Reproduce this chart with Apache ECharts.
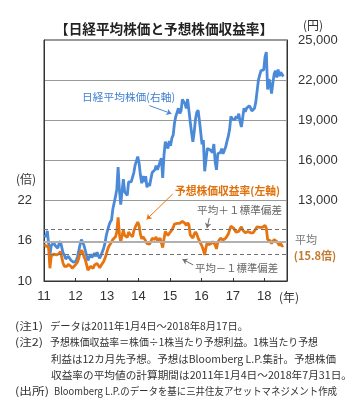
<!DOCTYPE html>
<html><head><meta charset="utf-8">
<script src="https://cdn.jsdelivr.net/npm/echarts@6/dist/echarts.min.js"></script>
<style>html,body{margin:0;padding:0;background:#fff}#c{width:360px;height:406px}</style>
</head><body><div id="c"></div>
<script>
// Semi-monthly values (two per month) per year
const years = [2011, 2012, 2013, 2014, 2015, 2016, 2017, 2018];
const nikkei2011 = [10450,10280, 10750,10620, 8900,9650, 9650,9850, 9650,9690, 9450,9800, 9970,9830, 9100,8950, 8650,8700, 8850,8990, 8550,8430, 8400,8455];
const nikkei2012 = [8500,8800, 9250,9720, 10100,10080, 9650,9520, 8900,8540, 8500,9000, 8750,8700, 9080,8840, 9150,8870, 8700,8930, 8800,9450, 9830,10395];
const nikkei2013 = [10800,11140, 11400,11560, 12380,12400, 13300,13860, 15500,13780, 12700,13680, 14600,13670, 13750,13390, 14400,14460, 14400,14330, 15100,15660, 15700,16290];
const nikkei2014 = [15800,14910, 14300,14840, 14400,14830, 14000,14300, 14100,14630, 15100,15160, 15300,15620, 15300,15420, 15900,16170, 14700,16410, 17400,17460, 16900,17450];
const nikkei2015 = [17100,17670, 17900,18800, 19300,19210, 19900,19520, 19700,20560, 20700,20240, 19900,20590, 20500,18890, 18100,17390, 18100,19080, 19600,19750, 19000,19030];
const nikkei2016 = [17200,17520, 15200,16030, 16900,16760, 16800,16670, 16600,17230, 15900,15300, 16500,16570, 16600,16890, 16500,16450, 17000,17430, 17800,18310, 19300,19110];
const nikkei2017 = [19000,19040, 19300,19120, 19500,18910, 18500,19200, 19900,19650, 19900,20030, 20100,19930, 19700,19650, 19900,20360, 21200,22010, 22400,22720, 22700,22760];
const nikkei2018 = [23700,24100, 21300,22070, 21700,21000, 21800,22470, 22700,22200, 22800,22300, 22600,22550, 22270];

const per2011 = [15.5,15.2, 15.4,15.1, 11.9,13.7, 13.8,14.0, 14.1,13.9, 13.7,14.1, 14.4,14.2, 12.7,12.2, 12.0,12.2, 12.5,12.6, 12.2,11.9, 12.0,12.3];
const per2012 = [12.4,12.8, 13.4,14.2, 14.6,14.3, 13.6,13.2, 12.4,11.6, 11.5,12.2, 12.0,11.9, 12.4,12.2, 12.6,12.3, 12.0,12.3, 12.2,12.9, 13.4,14.0];
const per2013 = [14.7,15.2, 15.5,15.6, 16.2,16.0, 16.6,17.3, 19.5,17.0, 15.8,16.8, 17.6,16.8, 17.0,16.5, 17.3,17.0, 16.8,16.6, 17.5,18.0, 18.2,18.8];
const per2014 = [18.3,17.0, 16.3,16.6, 16.4,16.0, 15.6,15.8, 15.5,15.9, 16.4,16.3, 16.2,16.6, 16.0,15.9, 16.4,16.6, 15.0,16.3, 17.4,17.2, 16.8,17.1];
const per2015 = [17.0,17.6, 18.0,18.5, 18.7,18.6, 18.8,18.6, 18.5,18.9, 18.9,18.6, 18.3,18.7, 18.4,16.9, 16.8,16.4, 17.0,17.3, 17.0,16.4, 16.0,15.6];
const per2016 = [15.2,14.6, 13.9,15.0, 15.8,15.4, 15.2,15.6, 15.9,16.1, 15.4,14.8, 15.8,16.0, 16.4,16.2, 16.1,16.0, 16.4,16.6, 17.0,17.6, 18.2,18.4];
const per2017 = [17.9,17.6, 17.3,17.1, 17.4,17.8, 18.1,17.6, 17.4,17.2, 17.3,17.4, 17.3,17.2, 17.0,17.2, 17.5,17.8, 18.1,18.3, 18.0,17.8, 18.0,18.2];
const per2018 = [18.3,17.9, 16.2,16.4, 16.0,15.6, 15.8,16.2, 16.3,15.9, 15.6,15.3, 15.6,15.2, 15.3];

const perMean = 15.8;
const perPlus1 = 17.7;
const perMinus1 = 14.0;

const leftTicks = [10, 16, 22];
const rightTickMin = 13000;

const nikkeiByYear = [nikkei2011, nikkei2012, nikkei2013, nikkei2014, nikkei2015, nikkei2016, nikkei2017, nikkei2018];
const perByYear = [per2011, per2012, per2013, per2014, per2015, per2016, per2017, per2018];

function toPairs(arrs) {
  const out = [];
  arrs.forEach((arr, i) => {
    arr.forEach((v, k) => out.push([years[i] + (k + 0.5) / 24, v]));
  });
  return out;
}
const nikkeiData = toPairs(nikkeiByYear);
const perData = toPairs(perByYear);

const JP = '"Noto Sans CJK JP", sans-serif';
const NUM = '"Liberation Sans", Arial, sans-serif';

const chart = echarts.init(document.getElementById('c'), null, {renderer: 'canvas'});
const mctx = document.createElement('canvas').getContext('2d');

// text element; if width given, horizontally scaled to fit that width
function txt(x, y, text, size, color, weight, align, width) {
  const font = (weight || 'normal') + ' ' + size + 'px ' + JP;
  let sx = 1;
  if (width) {
    mctx.font = font;
    sx = width / mctx.measureText(text).width;
  }
  return {type: 'text', silent: true, x: x, y: y, scaleX: sx,
    style: {x: 0, y: 0, text: text, font: font, fill: color,
      align: align || 'left', verticalAlign: 'middle'}};
}

const noteSize = 10.6;
chart.setOption({
  animation: false,
  backgroundColor: '#fff',
  grid: {left: 44, top: 40, right: 73, bottom: 125, show: true, borderColor: '#333', borderWidth: 1, containLabel: false, outerBoundsMode: 'none'},
  xAxis: {
    type: 'value', min: 2011, max: 2018.72, interval: 1,
    axisLine: {show: true, lineStyle: {color: '#333', width: 1}},
    axisTick: {show: true, inside: true, length: 3, lineStyle: {color: '#333'}},
    axisLabel: {margin: 9, fontSize: 13, color: '#333', fontFamily: NUM, showMaxLabel: false,
      formatter: v => Number.isInteger(v) ? String(v).slice(2) : ''},
    splitLine: {show: false}
  },
  yAxis: [{
    type: 'value', position: 'left', min: 10, max: 46, interval: 6,
    axisLine: {show: true, lineStyle: {color: '#333'}},
    axisTick: {show: false},
    axisLabel: {margin: 12, fontSize: 13, color: '#333', fontFamily: NUM,
      formatter: v => leftTicks.indexOf(v) >= 0 ? String(v) : ''},
    splitLine: {show: true, lineStyle: {color: '#9a9a9a', width: 1}}
  }, {
    type: 'value', position: 'right', min: 7000, max: 25000, interval: 3000,
    axisLine: {show: true, lineStyle: {color: '#333'}},
    axisTick: {show: false},
    axisLabel: {margin: 11, fontSize: 13, color: '#333', fontFamily: NUM,
      formatter: v => v >= rightTickMin ? String(v).replace(/\B(?=(\d{3})+(?!\d))/g, ',') : ''},
    splitLine: {show: false}
  }],
  series: [{
    name: 'refs', type: 'line', yAxisIndex: 0, data: [], silent: true,
    markLine: {
      silent: true, symbol: 'none', label: {show: false},
      data: [
        {yAxis: perMean, lineStyle: {type: 'solid', color: '#b0b0b0', width: 2}},
        {yAxis: perPlus1, lineStyle: {type: [4, 3], color: '#707070', width: 1}},
        {yAxis: perMinus1, lineStyle: {type: [4, 3], color: '#707070', width: 1}}
      ]
    }
  }, {
    name: '日経平均株価', type: 'line', yAxisIndex: 1, data: nikkeiData,
    showSymbol: false, symbol: 'none',
    lineStyle: {color: '#4a8ad8', width: 2.8}, itemStyle: {color: '#4a8ad8'},
    markLine: {
      silent: true, symbol: ['none', 'arrow'], symbolSize: 5, label: {show: false},
      data: [[{coord: [2014.35, 20100]}, {coord: [2015.05, 19500]}]],
      lineStyle: {color: '#4a8ad8', width: 1, type: 'solid'}
    }
  }, {
    name: '予想株価収益率', type: 'line', yAxisIndex: 0, data: perData,
    showSymbol: false, symbol: 'none',
    lineStyle: {color: '#e8740f', width: 2.8}, itemStyle: {color: '#e8740f'},
    markLine: {
      silent: true, symbol: ['none', 'arrow'], symbolSize: 5, label: {show: false},
      data: [
        [{coord: [2015.09, 23.0], lineStyle: {color: '#e8740f', width: 1, type: 'solid'}}, {coord: [2014.26, 19.2]}],
        [{coord: [2016.25, 19.4], lineStyle: {color: '#707070', width: 1, type: 'solid'}}, {coord: [2016.18, 17.9]}],
        [{coord: [2015.74, 12.4], lineStyle: {color: '#707070', width: 1, type: 'solid'}}, {coord: [2015.4, 13.25]}]
      ]
    }
  }],
  graphic: [
    txt(55, 29, '【日経平均株価と予想株価収益率】', 13.6, '#222', 'bold', 'left', 218),
    txt(313, 25, '(円)', 12, '#333', 'normal', 'center'),
    txt(26, 179, '(倍)', 12, '#333', 'normal', 'center'),
    txt(289, 297, '(年)', 12, '#333', 'normal', 'center'),
    txt(82, 97, '日経平均株価(右軸)', 10.6, '#3f7fd0', 'normal', 'left', 93),
    txt(175, 191, '予想株価収益率(左軸)', 10.8, '#e0700a', 'bold', 'left', 105),
    txt(197, 210, '平均＋１標準偏差', 10.6, '#666', 'normal', 'left', 85),
    txt(195, 268, '平均－１標準偏差', 10.6, '#666', 'normal', 'left', 83),
    txt(306, 240, '平均', 11, '#777', 'normal', 'center'),
    txt(315, 256, '(15.8倍)', 11, '#c07a30', 'bold', 'center'),
    txt(15, 326, '(注1)', noteSize, '#333', 'normal', 'left', 28),
    txt(50, 326, 'データは2011年1月4日～2018年8月17日。', noteSize, '#333', 'normal', 'left', 198),
    txt(15, 342, '(注2)', noteSize, '#333', 'normal', 'left', 28),
    txt(50, 342, '予想株価収益率＝株価÷1株当たり予想利益。1株当たり予想', noteSize, '#333', 'normal', 'left', 268),
    txt(51, 359, '利益は12カ月先予想。予想はBloomberg L.P.集計。予想株価', noteSize, '#333', 'normal', 'left', 285),
    txt(51, 375, '収益率の平均値の計算期間は2011年1月4日～2018年7月31日。', noteSize, '#333', 'normal', 'left', 301),
    txt(15, 391, '(出所)', noteSize, '#333', 'normal', 'left', 34),
    txt(54, 391, 'Bloomberg L.P.のデータを基に三井住友アセットマネジメント作成', noteSize, '#333', 'normal', 'left', 283)
  ]
});
</script>
</body></html>
